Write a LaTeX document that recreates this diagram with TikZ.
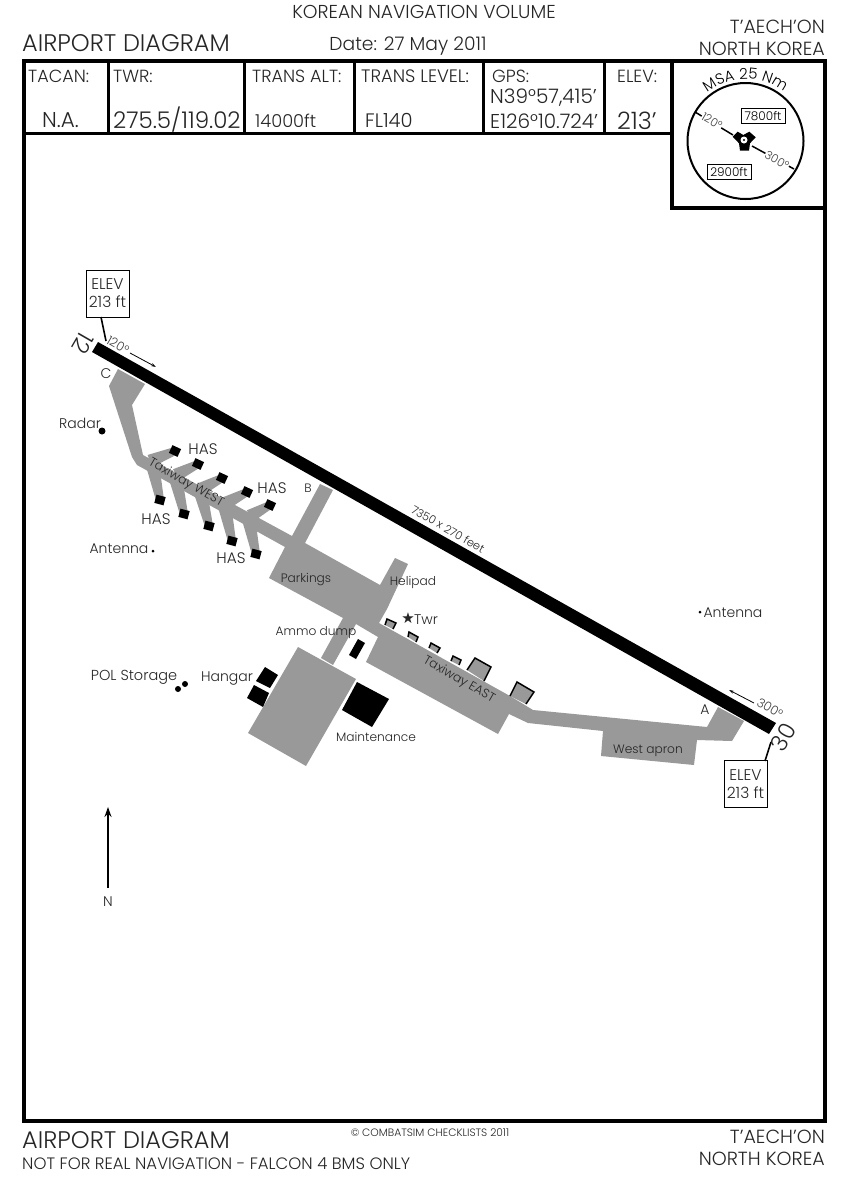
\documentclass[tikz,border=0pt]{standalone}
\usepackage{fontspec}
\setmainfont{Poppins Light}
\newfontfamily\symf{DejaVu Sans}
\usetikzlibrary{decorations.text,arrows.meta,calc}
\definecolor{twy}{gray}{0.6}
\newcommand\fsz[1]{\fontsize{#1}{#1}\selectfont}
\tikzset{
 lbl/.style={inner sep=0pt,anchor=base,text=black!85,font=\fsz{14}},
 lbll/.style={lbl,anchor=base west},
 lblr/.style={lbl,anchor=base east},
 big/.style={font=\fsz{24}},
 mid/.style={font=\fsz{19}},
 cell/.style={font=\fsz{17.6}},
 small/.style={font=\fsz{12.2}},
 frame/.style={line width=4pt,line cap=rect},
 hair/.style={line width=3pt},
 gr/.style={fill=twy,draw=none},
 blk/.style={fill=black,draw=none},
 shelter/.style={fill=twy,draw=black,line width=1.5pt},
 elev/.style={draw=black,fill=white,line width=1pt,minimum width=43pt,minimum height=47pt,inner sep=0pt,align=center,text=black!85,font=\fontsize{15.5}{18}\selectfont},
 alt/.style={draw=black,line width=.6pt,inner sep=1.5pt,minimum width=44pt,minimum height=15pt,font=\fsz{12}},
 has/.style={fill=black,minimum width=9.5pt,minimum height=8.5pt,inner sep=0pt,draw=none},
 dot/.style={circle,fill=black,inner sep=0pt},
 deg/.style={lbl,text=black!75,font=\fsz{12.5}},
 degs/.style={deg,font=\fsz{11.5}}
}
\begin{document}
\begin{tikzpicture}[x=1pt,y=-1pt]
\useasboundingbox (0,0) rectangle (850,1181);
\fill[white] (0,0) rectangle (850,1181);
% grey surfaces
\fill[gr] (118,369)--(145,384)--(132,405)--(143,455)--(292,536)--(320,484)--(333,490)--(305,543)--(380,585)--(395,558)--(408,564)--(387,609)--(379,623)--(510,696)--(533,710)--(707,727)--(718,707)--(744,721)--(732,741)--(697,740)--(694,765)--(601,756)--(603,731)--(528,723)--(509,714)--(498,734)--(366,662)--(378,637)--(356,624)--(333,665)--(321,658)--(343,618)--(269,578)--(285,547)--(137,465)--(132,457)--(109,386)--cycle;
\fill[gr] (298,647)--(356,679)--(306,766)--(248,733)--cycle;
% HAS branches
\foreach \n/\bx/\by/\sx/\sy/\rot in {
 a/150/461/175/451/-25, b/176/475/198/464/-25, c/201/489/222/478/-25, d/226/503/247/492/-25, e/250/516/270/505/-25,
 f/153/467/160/500/-15, g/176/480/184/514/-15, h/201/494/209/526/-15, i/225/508/232/541/-15, j/249/521/256/554/-15}{
  \coordinate (b\n) at (\bx,\by);
  \coordinate (s\n) at (\sx,\sy);
  \fill[gr] ($(b\n)!6.5pt!90:(s\n)$) -- ($(s\n)!4pt!-90:(b\n)$) -- ($(s\n)!4pt!90:(b\n)$) -- ($(b\n)!6.5pt!-90:(s\n)$) -- cycle;
  \node[has,rotate=\rot] (h\n) at (s\n) {};
}
% shelters on EAST taxiway
\draw[shelter] (385,625)--(387,619)--(396,623)--(393,629);
\draw[shelter] (408,637)--(409,632)--(418,637)--(416,642);
\draw[shelter] (429,648)--(431,643)--(440,648)--(437,653);
\draw[shelter] (451,661)--(453,656)--(461,660)--(459,665);
\draw[shelter] (467,670)--(475,658)--(491,667)--(484,681);
\draw[shelter] (510,696)--(517,682)--(534,692)--(526,704);
% black buildings
\fill[blk] (358,639)--(365,643)--(356,659)--(349,655)--cycle;
\fill[blk] (265,667)--(278,675)--(270,688)--(256,681)--cycle;
\fill[blk] (254,685)--(269,693)--(263,707)--(247,698)--cycle;
\fill[blk] (357,682)--(389,699)--(372,727)--(342,710)--cycle;
% runway
\fill[blk] (92,352)--(98,342)--(776,723)--(769,734)--cycle;
% frame
\draw[frame] (24,61) rectangle (825,1121);
\draw[hair] (24,133)--(672,133);
\foreach \x in {108,244,354,483,604}{\draw[hair] (\x,61)--(\x,133);}
\draw[frame] (672,61)--(672,208)--(825,208);
% header text
\node[lbl,font=\fsz{18.7}] at (424,18) {KOREAN NAVIGATION VOLUME};
\node[lbll,big] at (22,51) {AIRPORT DIAGRAM};
\node[lbl,font=\fsz{18.7}] at (408,50) {Date: 27 May 2011};
\node[lblr,mid] at (825,33) {T’AECH’ON};
\node[lblr,mid] at (825,55) {NORTH KOREA};
% cells
\node[lbll,cell] at (28,82) {TACAN:};
\node[lbll,font=\fsz{21.5}] at (42,127) {N.A.};
\node[lbll,cell] at (113,82) {TWR:};
\node[lbll,font=\fsz{23}] at (113,128) {275.5/119.02};
\node[lbll,cell] at (252,82) {TRANS ALT:};
\node[lbll,font=\fsz{17.8}] at (255,127) {14000ft};
\node[lbll,font=\fsz{18}] at (361,82) {TRANS LEVEL:};
\node[lbll,font=\fsz{19.5}] at (365,127) {FL140};
\node[lbll,cell] at (492,82) {GPS:};
\node[lbll,font=\fsz{20}] at (490,103) {N39°57,415’};
\node[lbll,font=\fsz{20}] at (490,128) {E126°10.724’};
\node[lbll,cell] at (617,82) {ELEV:};
\node[lbll,font=\fsz{24}] at (617,129) {213’};
% MSA
\node[circle,draw=black,line width=2pt,minimum size=116pt,inner sep=0pt] (msa) at (745.5,141) {};
\path[postaction={decorate,decoration={text along path,text align=center,text={|\fsz{15}|MSA 25 Nm}}}] (745.5,141) ++(140:62pt) arc[start angle=140,end angle=40,radius=62pt];
\node[alt] (a78) at (763,116) {7800ft};
\node[alt] (a29) at (729,172) {2900ft};
\coordinate (t120) at (695,112);
\coordinate (c120) at (733,135);
\coordinate (t300) at (794,169);
\coordinate (c300) at (752,146);
\draw[line width=1.5pt] (t120) -- (c120);
\draw[line width=1.5pt] (t300) -- (c300);
\node[degs,fill=white,inner sep=.5pt,anchor=center,rotate=-30] at (712,121) {120°};
\node[degs,fill=white,inner sep=.5pt,anchor=center,rotate=-30] at (777,160) {300°};
\fill[blk] (732.7,136.7)--(737.7,131.7)--(743.3,135)--(749.3,131.7)--(755.7,137.3)--(750,143.3)--(749,150.7)--(740,150.7)--(739,143.3)--cycle;
\fill[white] (744,140) circle (3.5pt);
\fill[black] (744,140) circle (1.2pt);
% runway callouts
\node[elev] (e1) at (107.5,293.5) {ELEV\\213 ft};
\coordinate (e1b) at (101,317);
\coordinate (e1t) at (106,341);
\draw[line width=1.6pt] (e1b) -- (e1t);
\node[elev] (e2) at (745.5,784) {ELEV\\213 ft};
\coordinate (e2b) at (765,761);
\coordinate (e2t) at (771,742);
\draw[line width=1.6pt] (e2b) -- (e2t);
\node[lbl,font=\fsz{23},anchor=center,rotate=240] at (83,343) {12};
\node[lbl,font=\fsz{23},anchor=center,rotate=60] at (783,737) {30};
\node[deg,anchor=center,rotate=-30] at (118,345) {120°};
\node[deg,anchor=center,rotate=-30] at (770,708) {300°};
\coordinate (a1s) at (130,353); \coordinate (a1e) at (156,367);
\coordinate (a2s) at (754,703); \coordinate (a2e) at (729,690);
\draw[line width=.8pt,-{Stealth[length=5pt,width=3pt]}] (a1s) -- (a1e);
\draw[line width=.8pt,-{Stealth[length=5pt,width=3pt]}] (a2s) -- (a2e);
\node[lbl,font=\fsz{11.3},anchor=center,rotate=-30] at (448,529) {7350 x 270 feet};
% north
\node[lbl] (nn) at (108,906) {N};
\coordinate (ntip) at (108,807);
\coordinate (nbase) at (108,888);
\draw[line width=2pt,-{Stealth[length=10pt,width=7pt]}] (nbase) -- (ntip);
% dots
\node[dot,minimum size=7pt] (radar) at (102,431) {};
\node[dot,minimum size=3pt] at (153,551) {};
\node[dot,minimum size=3pt] at (700,612) {};
\node[dot,minimum size=6pt] at (178,689) {};
\node[dot,minimum size=6pt] at (185,684) {};
% labels
\node[lbl] at (80,428) {Radar};
\node[lbl] at (119,553) {Antenna};
\node[lbl] at (733,617) {Antenna};
\node[lbl,font=\fsz{15.3}] at (203,454) {HAS};
\node[lbl,font=\fsz{15.3}] at (272,493) {HAS};
\node[lbl,font=\fsz{15.3}] at (156,524) {HAS};
\node[lbl,font=\fsz{15.3}] at (231,563) {HAS};
\node[lbl,small] at (308,492) {B};
\node[lbl] at (106,378) {C};
\node[lbl] at (705,714) {A};
\node[lbl,small] at (306,582) {Parkings};
\node[lbl,small] at (413,585) {Helipad};
\node[lbl,small] at (316,635) {Ammo dump};
\node[lbl,font=\fsz{14.5}] at (134,680) {POL Storage};
\node[lbl] at (227,681) {Hangar};
\node[lbl,small] at (376,741) {Maintenance};
\node[lbl,small] at (648,753) {West apron};
\node[lbl,font=\fsz{12.5},anchor=center,rotate=-30] at (186,483) {Taxiway WEST};
\node[lbl,font=\fsz{12.5},anchor=center,rotate=-30] at (459,680) {Taxiway EAST};
\node[lbl,anchor=center,font=\symf\fsz{15}] at (408,618) {★};
\node[lbl] at (426,624) {Twr};
% footer
\node[lbll,big] at (22,1148) {AIRPORT DIAGRAM};
\node[lbll,font=\fsz{16.5}] at (22,1169) {NOT FOR REAL NAVIGATION - FALCON 4 BMS ONLY};
\node[lbl,font=\fsz{10.7}] at (430,1136) {© COMBATSIM CHECKLISTS 2011};
\node[lblr,mid] at (825,1143) {T’AECH’ON};
\node[lblr,mid] at (825,1165) {NORTH KOREA};
\end{tikzpicture}
\end{document}
